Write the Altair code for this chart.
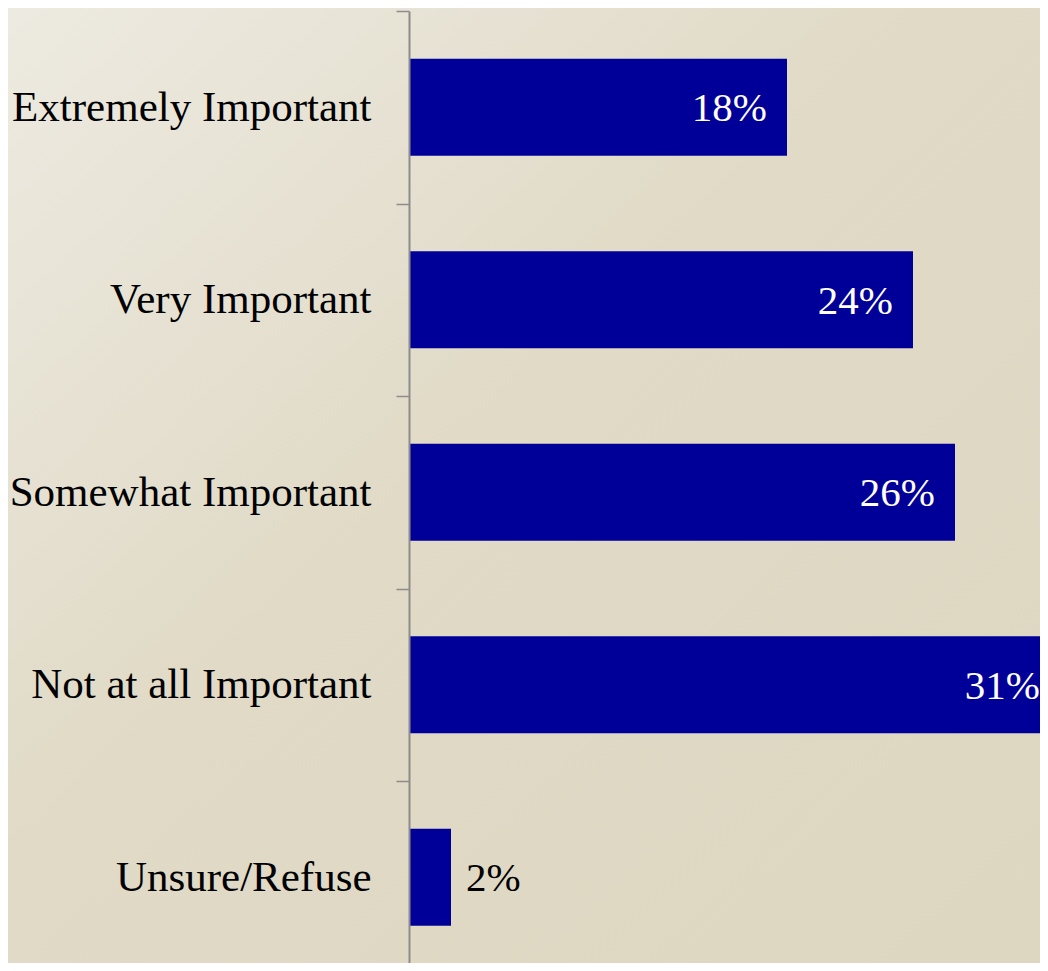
import altair as alt
import pandas as pd

categories = ["Extremely Important", "Very Important", "Somewhat Important",
              "Not at all Important", "Unsure/Refuse"]
values = [18, 24, 26, 31, 2]
labels = ["18%", "24%", "26%", "31%", "2%"]
inside = [True, True, True, True, False]

df = pd.DataFrame({"cat": categories, "val": values, "lab": labels, "inside": inside})

FONT = "Liberation Serif"
VIEW_W = 631      # visible plot width (page is 1048 wide)
VIEW_H = 952      # visible plot height
X_RANGE = 651     # pixel length for the 0-31 scale
Y_RANGE = 962.5   # pixel length of the five bands

y_enc = alt.Y("cat:N", sort=categories, title=None,
              scale=alt.Scale(paddingInner=0, paddingOuter=0, range=[0, Y_RANGE]),
              axis=alt.Axis(labelFont=FONT, labelFontSize=43, labelColor="#000000",
                            labelPadding=25, tickSize=13, tickBand="extent",
                            tickColor="#8c8c8c", tickWidth=1.5,
                            domainColor="#8c8c8c", domainWidth=2, labelLimit=1000,
                            zindex=2))
x_enc = alt.X("val:Q", title=None,
              scale=alt.Scale(domain=[0, 31], range=[0, X_RANGE], nice=False, zero=True),
              axis=None)

bg = alt.Chart(df).mark_rect(
    fill=alt.LinearGradient(gradient="linear", x1=0, y1=0, x2=1, y2=1,
                            stops=[alt.GradientStop(offset=0, color="#EDEAE1"),
                                   alt.GradientStop(offset=0.45, color="#E0DAC6"),
                                   alt.GradientStop(offset=1, color="#DDD7C2")])
).encode(x=alt.value(-401), x2=alt.value(VIEW_W), y=alt.value(-3), y2=alt.value(VIEW_H))

base = alt.Chart(df).encode(y=y_enc, x=x_enc)

bars = base.mark_bar(color="#000099", size=97)

text_in = base.transform_filter("datum.inside").mark_text(
    align="right", baseline="middle", dx=-20, dy=2, font=FONT, fontSize=41, color="#FFFFFF"
).encode(text="lab:N")

text_out = base.transform_filter("!datum.inside").mark_text(
    align="left", baseline="middle", dx=15, dy=2, font=FONT, fontSize=41, color="#000000"
).encode(text="lab:N")

chart = alt.layer(bg, bars, text_in, text_out).properties(
    width=VIEW_W, height=VIEW_H,
    autosize=alt.AutoSizeParams(type="none"),
    padding={"left": 401, "top": 3, "right": 0, "bottom": 0},
    background="#DFD9C4",
).configure_view(strokeWidth=0)

chart.save("out.html", embed_options={"renderer": "svg", "actions": False})
